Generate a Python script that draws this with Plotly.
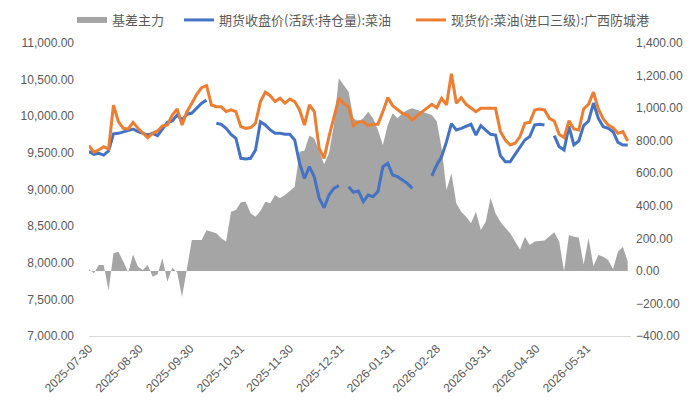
import pandas as pd
import plotly.graph_objects as go

dates = pd.date_range("2025-07-30", periods=111, freq="3D")

tick_labels = ["2025-07-30", "2025-08-30", "2025-09-30", "2025-10-31", "2025-11-30",
               "2025-12-31", "2026-01-31", "2026-02-28", "2026-03-31", "2026-04-30", "2026-05-31"]

spot = [9600, 9510, 9540, 9585, 9553, 10150, 9926, 9835, 9826, 9917,
        9835, 9767, 9708, 9767, 9799, 9867, 9881, 10017, 10099, 9880,
        10063, 10177, 10300, 10391, 10420, 10154, 10131, 10131, 10063, 10086,
        10063, 9858, 9835, 9845, 9904, 10200, 10327, 10281, 10200, 10245,
        10177, 10236, 10200, 10086, 9880, 10154, 10063, 9562, 9426, 9722,
        9995, 10245, 10177, 10131, 9872, 9926, 9926, 9872, 9890, 9890,
        10063, 10254, 10145, 10086, 10040, 10017, 9949, 10008, 10063, 10117,
        10163, 10117, 10245, 10154, 10580, 10177, 10254, 10163, 10117, 10063,
        10108, 10108, 10108, 10108, 9790, 9676, 9608, 9631, 9722, 9904,
        9917, 10086, 10099, 10086, 9972, 9935, 9753, 9708, 9940, 9826,
        9812, 10099, 10163, 10330, 10099, 9963, 9881, 9844, 9767, 9790,
        9662]

futures = [9520, 9480, 9494, 9470, 9526, 9760, 9767, 9790, 9813, 9826,
           9790, 9767, 9744, 9767, 9735, 9826, 9917, 9935, 10017, 9950,
           10027, 10044, 10108, 10177, 10220, None, 9904, 9890, 9835, 9753,
           9699, 9426, 9417, 9426, 9540, 9926, 9881, 9813, 9767, 9767,
           9753, 9753, 9676, 9358, 9150, 9312, 9175, 8880, 8750, 8925,
           9016, 9053, None, 9039, 8962, 8980, 8834, 8925, 8902, 8971,
           9312, 9358, 9198, 9175, 9130, 9084, 9016, None, None, None,
           9185, 9335, 9449, 9653, 9900, 9812, 9835, 9858, 9890, 9744,
           9872, 9812, 9753, 9744, 9462, 9380, 9380, 9480, 9585, 9676,
           9722, 9881, 9890, 9881, None, 9735, 9585, 9540, 9860, 9608,
           9662, 9872, 9935, 10180, 9972, 9858, 9835, 9790, 9644, 9608,
           9608]

basis = [10, -15, 36, 36, -120, 108, 118, 57, -10, 100,
         26, 5, 36, -36, -20, 77, -66, 20, -9, -160,
         None, 190, 190, 190, 250, None, 231, 200, 180, 364,
         374, 421, 425, 354, 333, 368, 425, 415, 466, 446,
         466, 491, 517, 732, 740, 831, 814, 737, 655, 722,
         896, 1183, None, 1101, 937, 917, 937, 978, 937, 866,
         773, 896, 968, 937, 968, 988, 999, None, None, None,
         958, 920, 753, 497, 600, 415, 364, 333, 292, 364,
         251, 302, 450, 354, 302, 265, 231, 180, 132, 210,
         159, 180, 184, 186, None, 237, 180, 0, 220, 210,
         205, 40, 200, 30, 97, 87, 67, 12, 118, 149,
         57]

FONT = "Liberation Sans, Arial, Noto Sans CJK SC, sans-serif"
GREY_TXT = "#595959"
LEG_FONT = dict(size=13, color=GREY_TXT, family="Noto Sans CJK SC, Liberation Sans")

fig = go.Figure()
fig.add_trace(go.Scatter(
    x=dates, y=basis, name="基差主力", mode="none", fill="tozeroy",
    fillcolor="#A5A5A5", yaxis="y", connectgaps=False, legend="legend"))
fig.add_trace(go.Scatter(
    x=dates, y=futures, name="期货收盘价(活跃:持仓量):菜油", mode="lines",
    line=dict(color="#4472C4", width=3), yaxis="y2", connectgaps=False, legend="legend2"))
fig.add_trace(go.Scatter(
    x=dates, y=spot, name="现货价:菜油(进口三级):广西防城港", mode="lines",
    line=dict(color="#ED7D31", width=3), yaxis="y2", connectgaps=False, legend="legend3"))

leg_common = dict(orientation="h", xanchor="left", y=1.0785, yanchor="middle",
                  font=LEG_FONT, itemwidth=30, bgcolor="rgba(0,0,0,0)")

fig.update_layout(
    width=677, height=393,
    margin=dict(l=81, r=54, t=35, b=65, autoexpand=False),
    paper_bgcolor="white", plot_bgcolor="white",
    font=dict(family=FONT, size=12, color=GREY_TXT),
    showlegend=True,
    legend=dict(x=-0.0314, **leg_common),
    legend2=dict(x=0.1661, **leg_common),
    legend3=dict(x=0.5941, **leg_common),
    xaxis=dict(type="date", range=["2025-07-30", "2026-06-27"], automargin=False,
               tickvals=tick_labels, ticktext=tick_labels, tickangle=-45,
               showgrid=False, zeroline=False, showline=True, linecolor="#D9D9D9",
               linewidth=1, ticks="", tickfont=dict(size=12, color=GREY_TXT)),
    yaxis=dict(side="right", range=[-400, 1400], dtick=200, tickformat=",.2f",
               showgrid=False, zeroline=False, showline=False, ticks="", automargin=False,
               tickfont=dict(size=12, color=GREY_TXT), ticklabelstandoff=4),
    yaxis2=dict(side="left", overlaying="y", range=[7000, 11000], dtick=500,
                tickformat=",.2f", showgrid=False, zeroline=False, showline=False,
                ticks="", automargin=False, tickfont=dict(size=12, color=GREY_TXT),
                ticklabelstandoff=14),
)

fig.write_html("out.html")
